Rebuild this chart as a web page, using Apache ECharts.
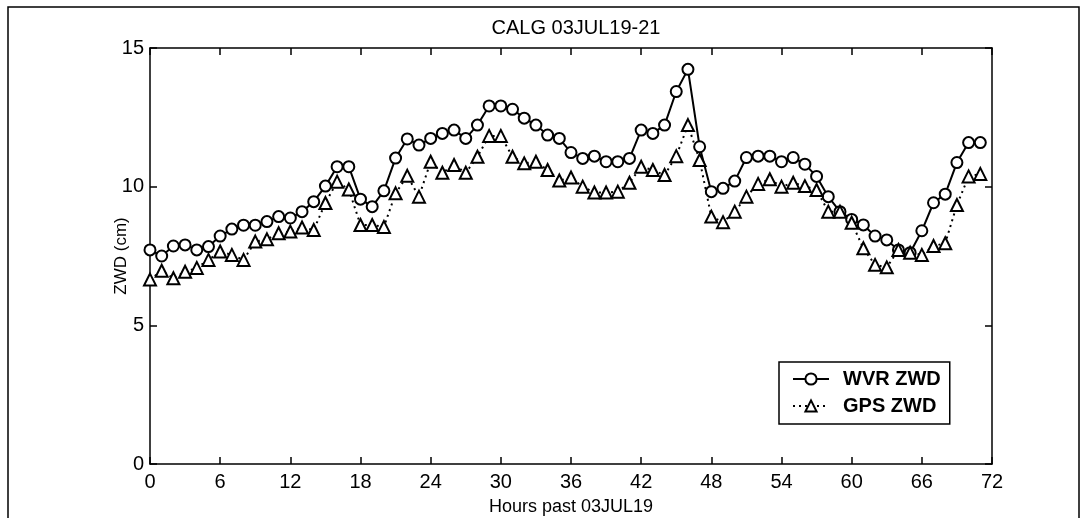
<!DOCTYPE html>
<html>
<head>
<meta charset="utf-8">
<script src="https://cdn.jsdelivr.net/npm/echarts@6/dist/echarts.min.js"></script>
<style>
  html, body { margin: 0; padding: 0; background: #fff; }
  #chart { width: 1088px; height: 518px; }
</style>
</head>
<body>
<div id="chart"></div>
<script>
const hours = [
  0, 1, 2, 3, 4, 5, 6, 7, 8, 9, 10, 11, 12, 13, 14, 15, 16, 17, 18, 19, 20, 21, 22, 23,
  24, 25, 26, 27, 28, 29, 30, 31, 32, 33, 34, 35, 36, 37, 38, 39, 40, 41, 42, 43, 44, 45, 46, 47,
  48, 49, 50, 51, 52, 53, 54, 55, 56, 57, 58, 59, 60, 61, 62, 63, 64, 65, 66, 67, 68, 69, 70, 71
]

const wvrZwd = [
  7.72, 7.5, 7.86, 7.9, 7.72, 7.84, 8.22, 8.47, 8.61, 8.61, 8.74, 8.92,
  8.87, 9.1, 9.46, 10.02, 10.72, 10.72, 9.55, 9.28, 9.85, 11.03, 11.72, 11.5,
  11.74, 11.92, 12.04, 11.74, 12.22, 12.91, 12.91, 12.79, 12.47, 12.22, 11.86, 11.74,
  11.23, 11.02, 11.1, 10.9, 10.9, 11.02, 12.04, 11.92, 12.22, 13.43, 14.23, 11.44,
  9.82, 9.94, 10.2, 11.05, 11.1, 11.1, 10.9, 11.05, 10.81, 10.37, 9.64, 9.1,
  8.82, 8.62, 8.22, 8.08, 7.72, 7.62, 8.41, 9.42, 9.73, 10.87, 11.59, 11.59
]

const gpsZwd = [
  6.65, 6.97, 6.7, 6.93, 7.07, 7.36, 7.66, 7.54, 7.36, 8.02, 8.1, 8.32,
  8.38, 8.53, 8.44, 9.41, 10.18, 9.9, 8.62, 8.62, 8.55, 9.76, 10.39, 9.64,
  10.9, 10.5, 10.78, 10.5, 11.08, 11.83, 11.83, 11.08, 10.84, 10.9, 10.6, 10.22,
  10.33, 10.0, 9.79, 9.79, 9.82, 10.14, 10.72, 10.6, 10.42, 11.1, 12.22, 10.96,
  8.92, 8.72, 9.1, 9.64, 10.1, 10.27, 10.0, 10.14, 10.02, 9.88, 9.1, 9.1,
  8.7, 7.78, 7.18, 7.09, 7.72, 7.62, 7.54, 7.86, 7.96, 9.34, 10.37, 10.46
]

const xTicks = { min: 0, max: 72, interval: 6 }
const yTicks = { min: 0, max: 15, interval: 5 }

const chart = echarts.init(document.getElementById('chart'), null, { renderer: 'canvas' })

const tickFont = { fontFamily: '"Liberation Sans Narrow", "Liberation Sans", Arial, sans-serif', fontSize: 20, color: '#000' }
const axisLine = { show: true, onZero: false, lineStyle: { color: '#000', width: 1.5 } }
const tickIn = { show: true, inside: true, length: 7, lineStyle: { color: '#000', width: 1.5 } }

const pairs = (vals) => hours.map((h, i) => [h, vals[i]])

chart.setOption({
  animation: false,
  backgroundColor: '#fff',
  title: {
    text: 'CALG 03JUL19-21',
    left: 571, top: 13, textAlign: 'center',
    textStyle: { fontFamily: '"Liberation Sans", Arial, sans-serif', fontSize: 20, fontWeight: 'normal', color: '#000' }
  },
  grid: { left: 150, right: 96, top: 48, bottom: 54, outerBoundsMode: 'none', containLabel: false },
  legend: {
    orient: 'vertical',
    left: 779, top: 362,
    padding: [7, 9, 8, 13],
    borderColor: '#000', borderWidth: 1.5,
    itemWidth: 36, itemHeight: 14, itemGap: 7,
    textStyle: { fontFamily: '"Liberation Sans", Arial, sans-serif', fontSize: 20, fontWeight: 'bold', color: '#000', padding: [0, 0, 0, 9] },
    data: ['WVR ZWD', 'GPS ZWD']
  },
  graphic: [
    { type: 'rect', shape: { x: 8, y: 7, width: 1071, height: 520 }, style: { fill: 'none', stroke: '#000', lineWidth: 1.5 }, silent: true },
    // y-axis title placed directly so it sits close to the tick labels
    {
      type: 'text', x: 121, y: 256, rotation: Math.PI / 2,
      style: { text: 'ZWD (cm)', fill: '#000', font: '17px "Liberation Sans", Arial, sans-serif', align: 'center', verticalAlign: 'middle' },
      silent: true
    }
  ],
  xAxis: [
    {
      type: 'value', ...xTicks,
      name: 'Hours past 03JUL19', nameLocation: 'middle', nameGap: 34,
      nameTextStyle: { fontFamily: '"Liberation Sans", Arial, sans-serif', fontSize: 18, color: '#000' },
      axisLine, axisTick: tickIn, splitLine: { show: false },
      axisLabel: { ...tickFont, margin: 8 }
    },
    {
      type: 'value', ...xTicks, position: 'top',
      axisLine, axisTick: tickIn, splitLine: { show: false }, axisLabel: { show: false }
    }
  ],
  yAxis: [
    {
      type: 'value', ...yTicks,
      axisLine, axisTick: tickIn, splitLine: { show: false },
      axisLabel: { ...tickFont, margin: 6 }
    },
    {
      type: 'value', ...yTicks, position: 'right',
      axisLine, axisTick: tickIn, splitLine: { show: false }, axisLabel: { show: false }
    }
  ],
  series: [
    {
      name: 'WVR ZWD', type: 'line', data: pairs(wvrZwd),
      symbol: 'circle', symbolSize: 11, showAllSymbol: true,
      lineStyle: { color: '#000', width: 2, type: 'solid' },
      itemStyle: { color: '#fff', borderColor: '#000', borderWidth: 2 }
    },
    {
      name: 'GPS ZWD', type: 'line', data: pairs(gpsZwd),
      symbol: 'triangle', symbolSize: 12, showAllSymbol: true,
      lineStyle: { color: '#000', width: 2, type: [2, 4] },
      itemStyle: { color: '#fff', borderColor: '#000', borderWidth: 2 }
    }
  ]
})
</script>
</body>
</html>
